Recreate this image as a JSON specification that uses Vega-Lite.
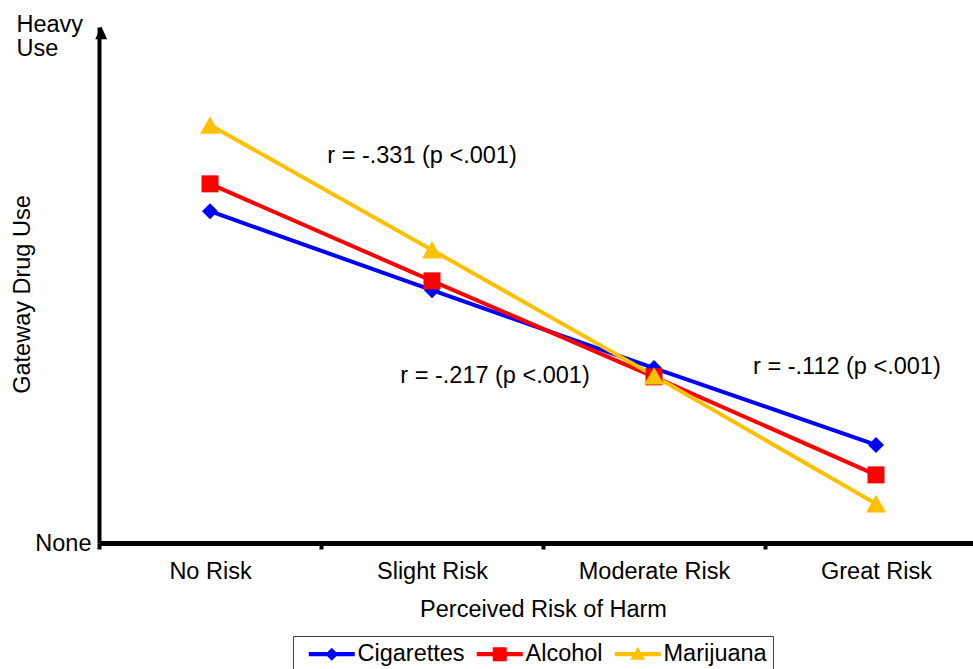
{
  "$schema": "https://vega.github.io/schema/vega-lite/v6.json",
  "width": 874,
  "height": 516,
  "autosize": "none",
  "padding": {"left": 99, "top": 27, "right": 0, "bottom": 126},
  "background": "white",
  "config": {
    "view": {"stroke": null},
    "font": "Liberation Sans",
    "axis": {"labelFont": "Liberation Sans", "titleFont": "Liberation Sans", "labelColor": "black", "titleColor": "black", "titleFontWeight": "normal", "labelFontSize": 23.5, "titleFontSize": 23.5, "grid": false},
    "legend": {"labelFont": "Liberation Sans"}
  },
  "datasets": {
    "series": [
      {"risk": "No Risk", "drug": "Cigarettes", "use": 64.3},
      {"risk": "Slight Risk", "drug": "Cigarettes", "use": 49.0},
      {"risk": "Moderate Risk", "drug": "Cigarettes", "use": 33.9},
      {"risk": "Great Risk", "drug": "Cigarettes", "use": 19.0},
      {"risk": "No Risk", "drug": "Alcohol", "use": 69.6},
      {"risk": "Slight Risk", "drug": "Alcohol", "use": 50.8},
      {"risk": "Moderate Risk", "drug": "Alcohol", "use": 32.2},
      {"risk": "Great Risk", "drug": "Alcohol", "use": 13.2},
      {"risk": "No Risk", "drug": "Marijuana", "use": 81.0},
      {"risk": "Slight Risk", "drug": "Marijuana", "use": 56.8},
      {"risk": "Moderate Risk", "drug": "Marijuana", "use": 32.4},
      {"risk": "Great Risk", "drug": "Marijuana", "use": 7.6}
    ],
    "notes": [
      {"pos": 0.955, "use": 75.0, "label": "r = -.331 (p <.001)"},
      {"pos": 1.284, "use": 32.4, "label": "r = -.217 (p <.001)"},
      {"pos": 2.869, "use": 34.1, "label": "r = -.112 (p <.001)"}
    ],
    "arrow": [
      {"pos": -0.49, "use": 98.9}
    ]
  },
  "resolve": {"scale": {"x": "independent"}},
  "layer": [
    {
      "data": {"name": "series"},
      "encoding": {
        "x": {
          "field": "risk", "type": "nominal",
          "sort": ["No Risk", "Slight Risk", "Moderate Risk", "Great Risk"],
          "scale": {"range": [0, 888], "paddingInner": 0, "paddingOuter": 0},
          "axis": {
            "title": "Perceived Risk of Harm", "labelAngle": 0,
            "domainColor": "black", "domainWidth": 5,
            "tickColor": "black", "tickWidth": 4, "tickSize": 6, "tickBand": "extent",
            "labelPadding": 10, "titlePadding": 15
          }
        },
        "y": {
          "field": "use", "type": "quantitative",
          "scale": {"domain": [0, 100], "nice": false},
          "axis": {
            "title": "Gateway Drug Use",
            "values": [0, 98.6],
            "labelExpr": "datum.value < 50 ? 'None' : ['Heavy', 'Use']",
            "labelAlign": {"condition": {"test": "datum.value > 50", "value": "left"}, "value": "right"},
            "labelPadding": {"condition": {"test": "datum.value > 50", "value": 83}, "value": 8},
            "labelOffset": {"condition": {"test": "datum.value > 50", "value": -10}, "value": 0},
            "labelLineHeight": 24,
            "ticks": false, "tickSize": 0,
            "domainColor": "black", "domainWidth": 4,
            "titleX": -77, "titleY": 267, "titleBaseline": "middle", "titleAngle": 270
          }
        },
        "color": {
          "field": "drug", "type": "nominal",
          "scale": {"domain": ["Cigarettes", "Alcohol", "Marijuana"], "range": ["#0000FF", "#FF0000", "#FFC000"]},
          "legend": {
            "title": null, "orient": "none", "legendX": 194, "legendY": 609,
            "direction": "horizontal", "strokeColor": "#444", "padding": 6,
            "labelFontSize": 23.5, "labelColor": "black", "symbolSize": 400,
            "labelOffset": 35, "columnPadding": 2, "symbolStrokeWidth": 0,
            "symbolOpacity": 1
          }
        }
      },
      "layer": [
        {"mark": {"type": "line", "strokeWidth": 4}},
        {
          "transform": [{"filter": "datum.use < 0"}],
          "mark": {"type": "point", "filled": true, "opacity": 1},
          "encoding": {
            "shape": {
              "field": "drug", "type": "nominal",
              "scale": {
                "domain": ["Cigarettes", "Alcohol", "Marijuana"],
                "range": [
                  "M-0.2,-0.22L4.4,-0.22L4.4,0.22L-0.2,0.22ZM2.1,-0.65L2.75,0L2.1,0.65L1.45,0Z",
                  "M-0.2,-0.22L4.4,-0.22L4.4,0.22L-0.2,0.22ZM1.4,-0.7L2.8,-0.7L2.8,0.7L1.4,0.7Z",
                  "M-0.2,-0.22L4.4,-0.22L4.4,0.22L-0.2,0.22ZM2.1,-0.75L2.85,0.55L1.35,0.55Z"
                ]
              },
              "legend": {"title": null}
            }
          }
        },
        {
          "transform": [{"filter": "datum.drug == 'Cigarettes'"}],
          "mark": {"type": "point", "filled": true, "opacity": 1, "shape": "diamond", "size": 256}
        },
        {
          "transform": [{"filter": "datum.drug == 'Alcohol'"}],
          "mark": {"type": "point", "filled": true, "opacity": 1, "shape": "square", "size": 289}
        },
        {
          "transform": [{"filter": "datum.drug == 'Marijuana'"}],
          "mark": {"type": "point", "filled": true, "opacity": 1, "shape": "triangle-up", "size": 400}
        }
      ]
    },
    {
      "layer": [
        {
          "data": {"name": "notes"},
          "mark": {"type": "text", "font": "Liberation Sans", "fontSize": 23.5, "color": "black", "align": "center", "baseline": "middle"},
          "encoding": {
            "x": {"field": "pos", "type": "quantitative", "scale": {"domain": [-0.5, 3.5], "range": [0, 888], "nice": false, "zero": false}, "axis": null},
            "y": {"field": "use", "type": "quantitative"},
            "text": {"field": "label"}
          }
        },
        {
          "data": {"name": "arrow"},
          "mark": {"type": "point", "filled": true, "opacity": 1, "color": "black", "shape": "M0,-1L0.92,1L-0.92,1Z", "size": 169},
          "encoding": {
            "x": {"field": "pos", "type": "quantitative", "scale": {"domain": [-0.5, 3.5], "range": [0, 888], "nice": false, "zero": false}, "axis": null},
            "y": {"field": "use", "type": "quantitative"}
          }
        }
      ]
    }
  ]
}
